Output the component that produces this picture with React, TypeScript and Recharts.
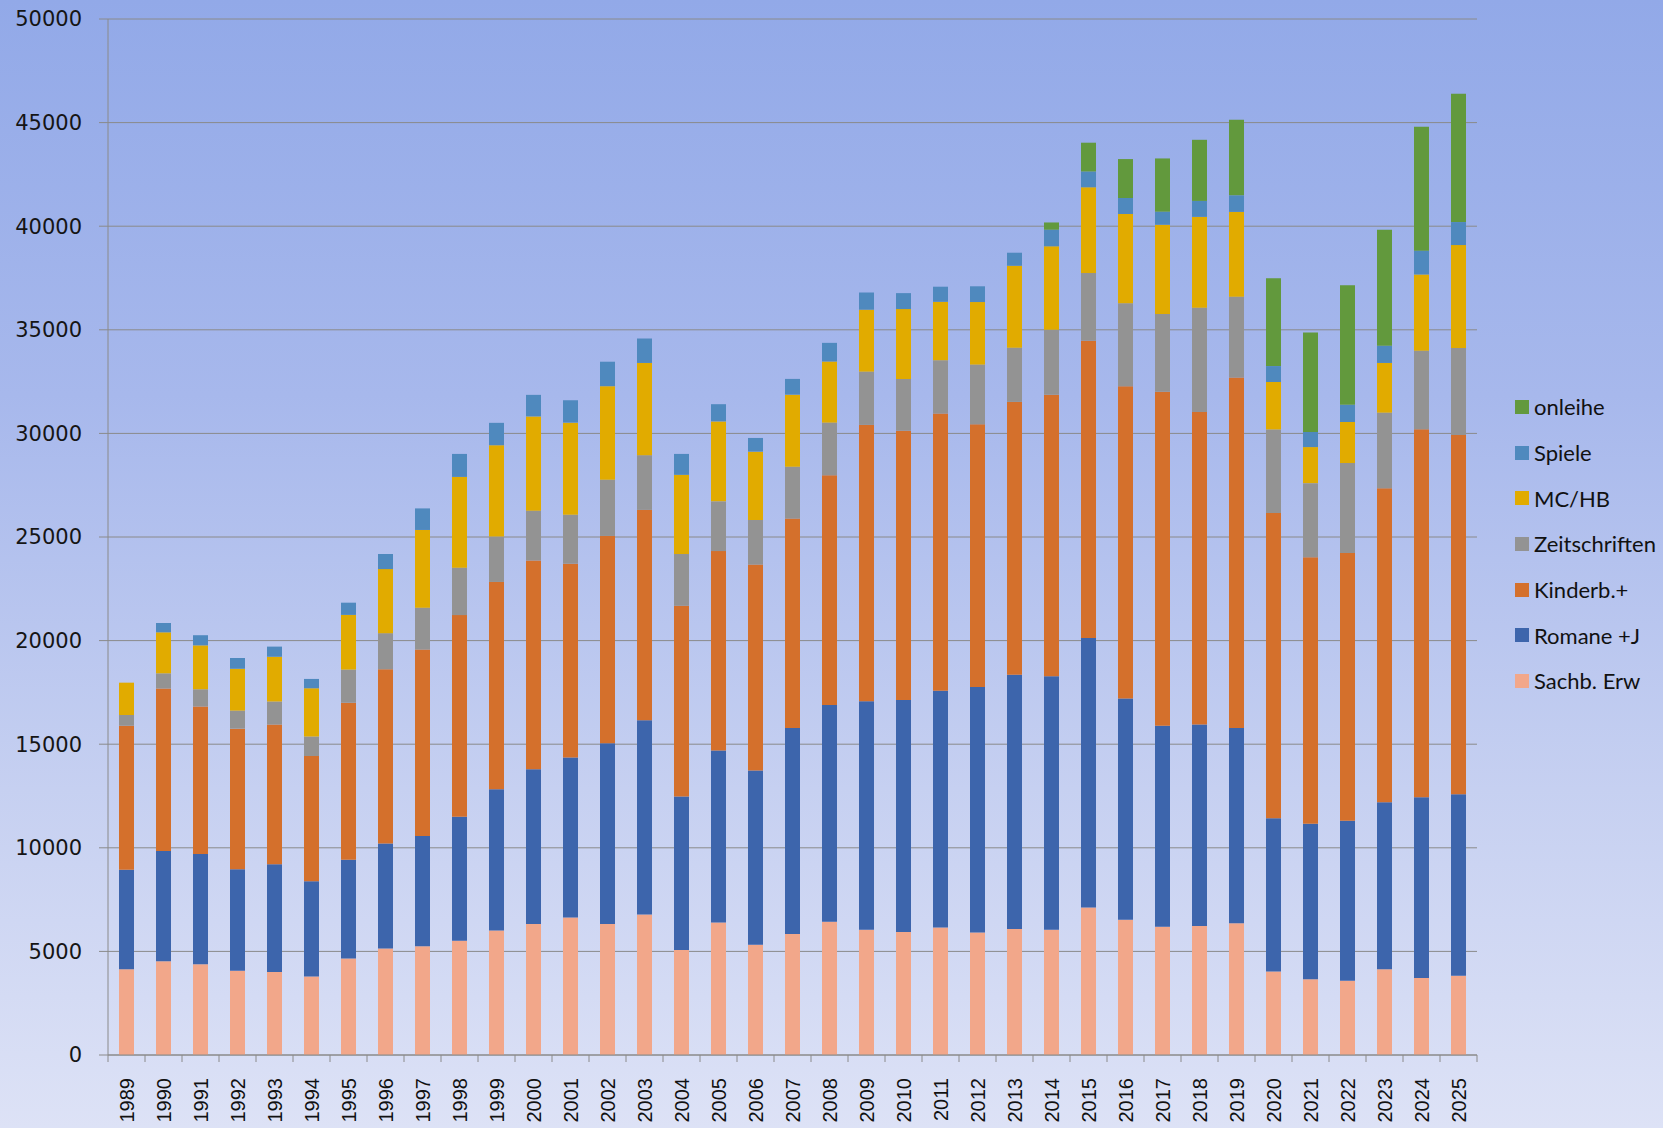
import React from 'react';
import { BarChart, Bar, XAxis, YAxis, CartesianGrid } from 'recharts';

const years = [
    '1989', '1990', '1991', '1992', '1993', '1994', '1995', '1996', '1997', '1998',
    '1999', '2000', '2001', '2002', '2003', '2004', '2005', '2006', '2007', '2008',
    '2009', '2010', '2011', '2012', '2013', '2014', '2015', '2016', '2017', '2018',
    '2019', '2020', '2021', '2022', '2023', '2024', '2025',
];

const sachb = [4140, 4520, 4380, 4070, 4000, 3790, 4660, 5140, 5250, 5520, 6010, 6320, 6640, 6320, 6780, 5070, 6390, 5320, 5840, 6430, 6050, 5940, 6150, 5910, 6080, 6050, 7120, 6530, 6190, 6220, 6360, 4030, 3650, 3580, 4140, 3720, 3820];
const romane = [4800, 5320, 5320, 4900, 5210, 4590, 4760, 5070, 5320, 5980, 6810, 7470, 7720, 8720, 9380, 7400, 8300, 8410, 9940, 10460, 11020, 11190, 11430, 11850, 12270, 12230, 13000, 10670, 9700, 9730, 9420, 7400, 7510, 7720, 8060, 8720, 8760];
const kinder = [6950, 7850, 7120, 6780, 6740, 6050, 7580, 8410, 9000, 9730, 10010, 10080, 9350, 10010, 10150, 9210, 9630, 9940, 10110, 11090, 13340, 13000, 13380, 12680, 13170, 13590, 14350, 15080, 16120, 15080, 16920, 14730, 12860, 12930, 15150, 17760, 17340];
const zeitschriften = [520, 730, 830, 870, 1110, 940, 1600, 1740, 2020, 2290, 2190, 2400, 2360, 2710, 2640, 2500, 2400, 2150, 2500, 2540, 2570, 2500, 2570, 2880, 2610, 3130, 3270, 4000, 3750, 5040, 3890, 4030, 3580, 4340, 3650, 3790, 4200];
const mchb = [1560, 1980, 2120, 2020, 2160, 2330, 2640, 3090, 3750, 4380, 4410, 4550, 4450, 4520, 4450, 3820, 3860, 3300, 3480, 2950, 2990, 3370, 2820, 3020, 3960, 4030, 4140, 4310, 4310, 4380, 4100, 2290, 1740, 1980, 2400, 3680, 4970];
const spiele = [0, 450, 490, 520, 490, 450, 590, 730, 1040, 1110, 1080, 1040, 1080, 1180, 1180, 1010, 830, 660, 760, 900, 830, 770, 730, 760, 630, 800, 760, 770, 630, 770, 800, 770, 730, 830, 830, 1150, 1110];
const onleihe = [0, 0, 0, 0, 0, 0, 0, 0, 0, 0, 0, 0, 0, 0, 0, 0, 0, 0, 0, 0, 0, 0, 0, 0, 0, 350, 1390, 1880, 2570, 2950, 3650, 4240, 4800, 5770, 5600, 5980, 6190];

const yTicks = [0, 5000, 10000, 15000, 20000, 25000, 30000, 35000, 40000, 45000, 50000];

// stacking order, bottom first
const series = [
    { key: 'sachb', name: 'Sachb. Erw', color: '#F2A78A', values: sachb },
    { key: 'romane', name: 'Romane +J', color: '#3D65AC', values: romane },
    { key: 'kinder', name: 'Kinderb.+', color: '#D4702C', values: kinder },
    { key: 'zeit', name: 'Zeitschriften', color: '#939393', values: zeitschriften },
    { key: 'mchb', name: 'MC/HB', color: '#E1AB00', values: mchb },
    { key: 'spiele', name: 'Spiele', color: '#4F89BE', values: spiele },
    { key: 'onleihe', name: 'onleihe', color: '#62993D', values: onleihe },
];

const data = years.map((year, i) => {
    const row: Record<string, string | number> = { year };
    series.forEach((s) => {
        row[s.key] = s.values[i];
    });
    return row;
});

const W = 1663;
const H = 1128;
const LEFT = 108;
const RIGHT = 186;
const BAND = (W - LEFT - RIGHT) / years.length;

const XTick = (props: any) => {
    const { x, y, payload, index } = props;
    const labelY = y + 23;
    return (
        <g>
            <line x1={x - BAND / 2} y1={y} x2={x - BAND / 2} y2={y + 7} stroke="#8a8a8a" />
            {index === years.length - 1 && (
                <line x1={x + BAND / 2} y1={y} x2={x + BAND / 2} y2={y + 7} stroke="#8a8a8a" />
            )}
            <text
                x={x}
                y={labelY}
                transform={`rotate(-90, ${x}, ${labelY})`}
                textAnchor="end"
                dominantBaseline="central"
                fontFamily="'Liberation Sans Narrow', 'Liberation Sans', Arial, sans-serif"
                fontSize={20}
                fill="#111"
            >
                {payload.value}
            </text>
        </g>
    );
};

const App = () => {
    return (
        <div
            style={{
                position: 'absolute',
                left: 0,
                top: 0,
                width: W,
                height: H,
                overflow: 'hidden',
                background: 'linear-gradient(to bottom, #92A9E8 0%, #A7B8EC 35%, #C6D0F1 70%, #DDE2F6 100%)',
            }}
        >
            <BarChart
                width={W}
                height={H}
                data={data}
                margin={{ top: 19, right: RIGHT, left: 0, bottom: 0 }}
            >
                <CartesianGrid stroke="#8a8a8a" vertical={false} />
                <XAxis
                    dataKey="year"
                    height={73}
                    interval={0}
                    tickLine={false}
                    tickSize={0}
                    tickMargin={0}
                    axisLine={{ stroke: '#8a8a8a' }}
                    tick={<XTick />}
                />
                <YAxis
                    width={LEFT}
                    domain={[0, 50000]}
                    ticks={yTicks}
                    interval={0}
                    tickSize={9}
                    tickMargin={17}
                    axisLine={{ stroke: '#8a8a8a' }}
                    tickLine={{ stroke: '#8a8a8a' }}
                    tick={{ fill: '#151515', fontSize: 21, fontFamily: "'DejaVu Sans', sans-serif" }}
                />
                {series.map((s) => (
                    <Bar
                        key={s.key}
                        dataKey={s.key}
                        name={s.name}
                        stackId="a"
                        fill={s.color}
                        barSize={15}
                        isAnimationActive={false}
                    />
                ))}
            </BarChart>

            <div style={{ position: 'absolute', left: 1515, top: 384 }}>
                {[...series].reverse().map((s) => (
                    <div
                        key={s.key}
                        style={{ display: 'flex', alignItems: 'center', height: 45.7 }}
                    >
                        <span
                            style={{
                                display: 'inline-block',
                                width: 14,
                                height: 14,
                                background: s.color,
                                marginRight: 5,
                            }}
                        />
                        <span style={{ fontFamily: 'Lato, sans-serif', fontSize: 22, color: '#111' }}>
                            {s.name}
                        </span>
                    </div>
                ))}
            </div>
        </div>
    );
};

export default App;
